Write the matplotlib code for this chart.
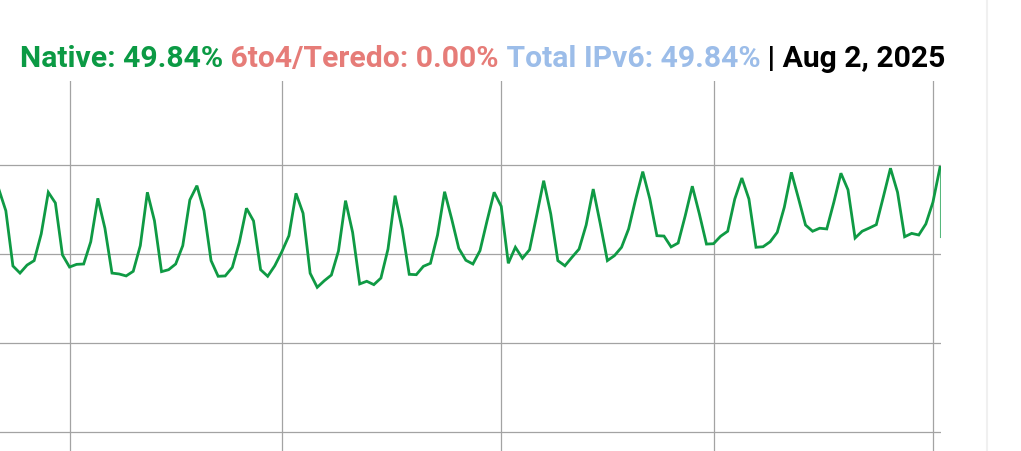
import numpy as np
import matplotlib
matplotlib.use("Agg")
import matplotlib.pyplot as plt
import matplotlib.dates as mdates
from matplotlib.lines import Line2D
import datetime as dt

# ---- data (percent of users reaching Google over native IPv6) ----
start_date = dt.date(2025, 3, 22)
native = [
    48.62, 47.40, 44.30, 43.90, 44.35, 44.60, 46.10, 48.44, 47.84, 44.92,
    44.24, 44.39, 44.41, 45.66, 48.10, 46.42, 43.90, 43.85, 43.74, 44.00,
    45.44, 48.44, 46.84, 43.98, 44.09, 44.41, 45.44, 48.01, 48.81, 47.40,
    44.60, 43.72, 43.74, 44.22, 45.63, 47.54, 46.83, 44.09, 43.72, 44.31,
    45.10, 46.00, 48.38, 47.26, 43.89, 43.10, 43.47, 43.79, 45.14, 47.97,
    46.19, 43.29, 43.44, 43.25, 43.62, 45.25, 48.25, 46.38, 43.83, 43.81,
    44.28, 44.45, 46.04, 48.47, 46.94, 45.29, 44.62, 44.41, 45.16, 46.84,
    48.44, 47.65, 44.45, 45.35, 44.73, 45.21, 47.12, 49.09, 47.22, 44.60,
    44.31, 44.79, 45.25, 46.60, 48.62, 46.66, 44.60, 44.88, 45.35, 46.38,
    48.06, 49.60, 48.06, 46.00, 45.98, 45.37, 45.59, 47.12, 48.78, 47.22,
    45.53, 45.55, 45.97, 46.25, 48.06, 49.24, 48.06, 45.35, 45.38, 45.66,
    46.19, 47.60, 49.56, 48.10, 46.60, 46.25, 46.42, 46.38, 47.88, 49.51,
    48.58, 45.87, 46.25, 46.43, 46.62, 48.19, 49.79, 48.44, 45.94, 46.13,
    46.04, 46.66, 47.88, 49.84,
]
partial_tail = 45.93  # drop drawn at the last (partial) day

grid_values = [35, 40, 45, 50]
month_lines = [dt.date(2025, 4, 1), dt.date(2025, 5, 1), dt.date(2025, 6, 1),
               dt.date(2025, 7, 1), dt.date(2025, 8, 1)]

title_parts = [
    ("Native: 49.84%", "#0b9a44"),
    (" 6to4/Teredo: 0.00%", "#e67c78"),
    (" Total IPv6: 49.84%", "#9cbde9"),
    (" | Aug 2, 2025", "#000000"),
]

# ---- figure ----
W, H = 1021, 452
fig = plt.figure(figsize=(W / 100, H / 100), dpi=100)
fig.patch.set_facecolor("white")

ax_top_px, ax_right_px = 82, 941
ax = fig.add_axes([0, 0, ax_right_px / W, 1 - ax_top_px / H])

dates = [start_date + dt.timedelta(days=i) for i in range(len(native))]
xn = mdates.date2num(dates)

ax.plot(xn, native, color="#0f9a44", lw=2.0, solid_joinstyle="miter", zorder=3)
ax.plot([xn[-1], xn[-1]], [native[-1], partial_tail], color="#0f9a44", lw=0.8,
        alpha=0.7, zorder=3)

# axis scaling (pixel calibration)
px_per_day = 7.077
x_last = xn[-1]
ax.set_xlim(x_last - 940 / px_per_day, x_last + 1 / px_per_day)
px_per_pct = 17.8
y50 = 165.5 - ax_top_px
ax.set_ylim(50 - (H - ax_top_px - y50) / px_per_pct, 50 + y50 / px_per_pct)

for v in grid_values:
    ax.axhline(v, color="#a3a3a3", lw=0.9, zorder=1)
for d in month_lines:
    ax.axvline(mdates.date2num(d), color="#a3a3a3", lw=0.9, zorder=1)

ax.set_xticks([])
ax.set_yticks([])
for s in ax.spines.values():
    s.set_visible(False)
ax.patch.set_alpha(0)

# faint page border at right
fig.add_artist(Line2D([986.5 / W, 986.5 / W], [0, 1], color="#f0f0f0", lw=1.5))

# ---- multi-coloured title ----
renderer = fig.canvas.get_renderer()
x = 20 / W
y = 1 - 67 / H
for txt, col in title_parts:
    t = fig.text(x, y, txt, color=col, fontsize=21.7, fontweight="bold",
                 family=["Roboto", "DejaVu Sans"], ha="left", va="baseline")
    bb = t.get_window_extent(renderer=renderer)
    x = bb.x1 / W

fig.savefig("out.png", dpi=100, facecolor="white")
